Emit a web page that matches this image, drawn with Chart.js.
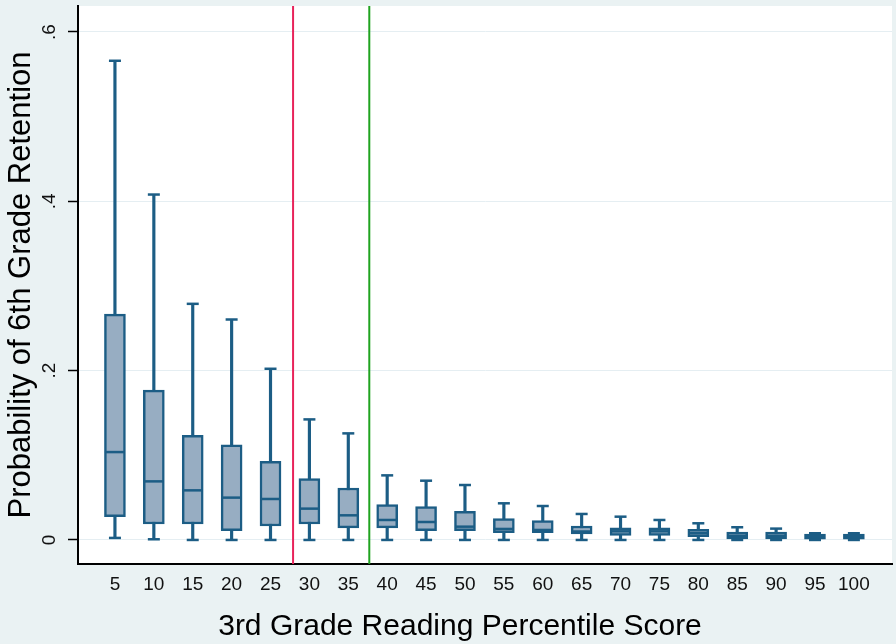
<!DOCTYPE html>
<html>
<head>
<meta charset="utf-8">
<script src="https://cdn.jsdelivr.net/npm/chart.js@4.4.1/dist/chart.umd.min.js"></script>
<style>
  html, body { margin: 0; padding: 0; background: #eaf2f3; }
  #wrap { width: 896px; height: 644px; position: relative; }
</style>
</head>
<body>
<div id="wrap"><canvas id="chart"></canvas></div>
<script>
// 3rd grade reading percentile (x) vs probability of 6th grade retention (box plots)
const percentiles = [5, 10, 15, 20, 25, 30, 35, 40, 45, 50, 55, 60, 65, 70, 75, 80, 85, 90, 95, 100];
const whiskerLow  = [0.0024, 0.0008, 0, 0, 0, 0, 0, 0, 0, 0, 0, 0, 0, 0, 0, 0, 0, 0, 0, 0];
const quartile1   = [0.0275, 0.0189, 0.0189, 0.011, 0.0165, 0.0189, 0.0142, 0.0142, 0.011, 0.011, 0.0087, 0.0087, 0.0071, 0.0055, 0.0055, 0.004, 0.0012, 0.0012, 0.001, 0.001];
const medians     = [0.1038, 0.0692, 0.0586, 0.050, 0.0484, 0.037, 0.0291, 0.0236, 0.0212, 0.0157, 0.013, 0.0118, 0.010, 0.0102, 0.0102, 0.008, 0.005, 0.005, 0.004, 0.004];
const quartile3   = [0.2667, 0.177, 0.1235, 0.1125, 0.0928, 0.0724, 0.0614, 0.0417, 0.0393, 0.0339, 0.0252, 0.0228, 0.0165, 0.0142, 0.0142, 0.0126, 0.0094, 0.0094, 0.007, 0.007];
const whiskerHigh = [0.566, 0.408, 0.2789, 0.2604, 0.2022, 0.1424, 0.1259, 0.0763, 0.070, 0.0649, 0.0433, 0.0401, 0.0307, 0.0275, 0.0236, 0.0197, 0.015, 0.0134, 0.0079, 0.0079];
const yTicks = [0, 0.2, 0.4, 0.6];
const redCutoff = 27.9;
const greenCutoff = 37.7;

const Y_MIN = -0.0284, Y_MAX = 0.6307;
const X_MIN = 0.25, X_MAX = 104.9;
const BLUE = '#1c5d85';
const BOX_FILL = '#97adc2';
const FONT = '"Liberation Sans", Arial, sans-serif';

const pts = (arr) => percentiles.map((p, i) => ({ x: p, y: arr[i] }));

const backdrop = {
  id: 'backdrop',
  beforeDraw(chart) {
    const { ctx, chartArea: a } = chart;
    ctx.save();
    ctx.fillStyle = '#eaf2f3';
    ctx.fillRect(0, 0, chart.width, chart.height);
    ctx.fillStyle = '#ffffff';
    ctx.fillRect(a.left, a.top, a.right - a.left, a.bottom - a.top);
    ctx.restore();
  },
  afterDraw(chart) {
    const ctx = chart.ctx;
    ctx.save();
    ctx.fillStyle = '#000';
    ctx.font = '30px ' + FONT;
    ctx.textAlign = 'center';
    ctx.textBaseline = 'middle';
    ctx.fillText('3rd Grade Reading Percentile Score', 460, 627);
    ctx.restore();
  }
};

// no extra room for overhanging tick labels: the plot area is fixed
const noPad = (s) => { s.paddingTop = 0; s.paddingBottom = 0; s.paddingLeft = 0; s.paddingRight = 0; };

new Chart(document.getElementById('chart'), {
  type: 'bar',
  data: {
    datasets: [
      {
        type: 'line', label: 'median', data: pts(medians), order: 1,
        showLine: false, pointStyle: 'line', pointRadius: 10, pointHoverRadius: 10,
        pointBorderWidth: 2.5, pointBorderColor: BLUE, borderColor: BLUE
      },
      {
        type: 'line', label: 'upper cap', data: pts(whiskerHigh), order: 2,
        showLine: false, pointStyle: 'line', pointRadius: 6, pointHoverRadius: 6,
        pointBorderWidth: 2.5, pointBorderColor: BLUE, borderColor: BLUE
      },
      {
        type: 'line', label: 'lower cap', data: pts(whiskerLow), order: 2,
        showLine: false, pointStyle: 'line', pointRadius: 6, pointHoverRadius: 6,
        pointBorderWidth: 2.5, pointBorderColor: BLUE, borderColor: BLUE
      },
      {
        label: 'box', order: 3, grouped: false,
        data: percentiles.map((p, i) => ({ x: p, y: [quartile1[i], quartile3[i]] })),
        backgroundColor: BOX_FILL, borderColor: BLUE, borderWidth: 2.5,
        borderSkipped: false, barThickness: 21
      },
      {
        label: 'whisker', order: 4, grouped: false,
        data: percentiles.map((p, i) => ({ x: p, y: [whiskerLow[i], whiskerHigh[i]] })),
        backgroundColor: BLUE, borderWidth: 0, barThickness: 2.5
      },
      {
        type: 'line', label: 'red', order: 5,
        data: [{ x: redCutoff, y: Y_MIN }, { x: redCutoff, y: Y_MAX }],
        borderColor: '#e8235a', borderWidth: 2, pointRadius: 0
      },
      {
        type: 'line', label: 'green', order: 5,
        data: [{ x: greenCutoff, y: Y_MIN }, { x: greenCutoff, y: Y_MAX }],
        borderColor: '#1fa31f', borderWidth: 2, pointRadius: 0
      }
    ]
  },
  plugins: [backdrop],
  options: {
    responsive: true,
    maintainAspectRatio: false,
    animation: false,
    layout: { autoPadding: false, padding: { left: 0, right: 4, top: 6, bottom: 0 } },
    plugins: { legend: { display: false }, tooltip: { enabled: false } },
    scales: {
      x: {
        type: 'linear', min: X_MIN, max: X_MAX, offset: false,
        afterBuildTicks: (s) => { s.ticks = percentiles.map(v => ({ value: v })); },
        afterFit: (s) => { s.height = 80; noPad(s); },
        grid: { display: false, drawTicks: false, offset: false },
        border: { display: true, color: '#000', width: 2 },
        ticks: { color: '#111', font: { family: FONT, size: 19 }, padding: 9, maxRotation: 0, autoSkip: false }
      },
      y: {
        type: 'linear', min: Y_MIN, max: Y_MAX,
        afterBuildTicks: (s) => { s.ticks = yTicks.map(v => ({ value: v })); },
        afterFit: (s) => { s.width = 78; noPad(s); },
        grid: { color: '#e5eef2', lineWidth: 1, tickColor: '#000', tickLength: 10, tickWidth: 1.5 },
        border: { display: true, color: '#000', width: 2 },
        ticks: {
          color: '#111', font: { family: FONT, size: 19 }, padding: 10,
          minRotation: 90, maxRotation: 90, crossAlign: 'center',
          callback: (v) => v === 0 ? '0' : String(Math.round(v * 10) / 10).replace(/^0/, '')
        },
        title: {
          display: true, text: 'Probability of 6th Grade Retention', color: '#000',
          font: { family: FONT, size: 31 }, padding: { top: 3, bottom: 0 }
        }
      }
    }
  }
});
</script>
</body>
</html>
